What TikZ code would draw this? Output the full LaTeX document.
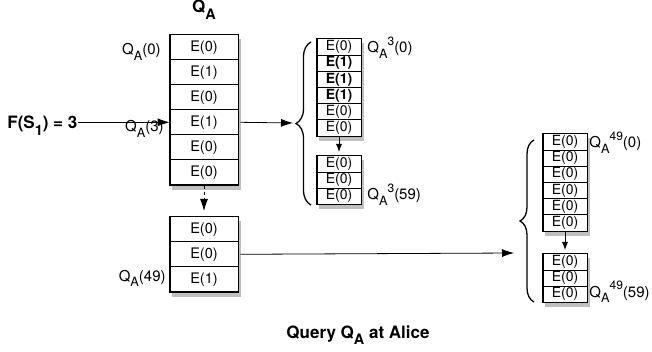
\documentclass[tikz,border=0pt]{standalone}
\usepackage{fontspec}
\setmainfont{TeX Gyre Heros}
\usetikzlibrary{matrix, positioning, shadows, arrows.meta, decorations.pathreplacing}
\newcommand\dn[1]{\raisebox{-0.38em}{\scalebox{0.85}{#1}}}
\newcommand\up[1]{\raisebox{0.5em}{\scalebox{0.8}{#1}}}
\tikzset{
	qcolumn/.style={
	matrix of nodes,
	anchor=north,
	inner sep=0pt,
	row sep=-\pgflinewidth,
	draw, fill=white,
	drop shadow={shadow xshift=2.5pt, shadow yshift=-4.5pt, opacity=0.5},
	nodes={rectangle,draw,fill=white,minimum width=68pt,minimum height=25pt,anchor=center,inner sep=0pt,font=\fontsize{14.5}{16}\selectfont}
	},
	scolumn/.style={
	qcolumn,
	nodes={minimum width=44pt,minimum height=16.2pt,font=\fontsize{14}{15}\selectfont}
	},
}

\begin{document}
\begin{tikzpicture}[x=1pt, y=-1pt, line width=0.8pt, >={Latex[length=12pt,width=8pt]}]

			\tikzstyle{lbl}=[inner sep=0pt, font=\fontsize{15}{17}\selectfont]
			\tikzstyle{bold}=[inner sep=0pt, font=\bfseries\fontsize{17}{19}\selectfont]
			\tikzstyle{curly}=[decorate, decoration={brace, amplitude=#1}, line width=1.3pt]
			\tikzstyle{small}=[-{Latex[length=8pt,width=6pt]}]

			\useasboundingbox (0,0) rectangle (652,352);

			% query vector at Alice
			\matrix at (204,34) (qa) [qcolumn] {E(0)\\ E(1)\\ E(0)\\ E(1)\\ E(0)\\ E(0)\\};
			\matrix at (204,216) (qb) [qcolumn] {E(0)\\ E(0)\\ E(1)\\};

			% expanded entries
			\matrix at (339,38) (sa) [scolumn] {E(0)\\ \textbf{E(1)}\\ \textbf{E(1)}\\ \textbf{E(1)}\\ E(0)\\ E(0)\\};
			\matrix at (339,155) (sb) [scolumn] {E(0)\\ E(0)\\ E(0)\\};
			\matrix at (565,133) (ra) [scolumn] {E(0)\\ E(0)\\ E(0)\\ E(0)\\ E(0)\\ E(0)\\};
			\matrix at (565,253) (rb) [scolumn] {E(0)\\ E(0)\\ E(0)\\};

			\node at (204,13) (title) [bold, anchor=base] {Q\dn{A}};
			\node at (7,129) (fs) [bold, anchor=base west] {F(S\dn{1}) = 3};
			\node at (358,338) (caption) [bold, anchor=base] {Query Q\dn{A} at Alice};

			\node at (161,55) (lqa0) [lbl, anchor=base east] {Q\dn{A}(0)};
			\node at (164,132) (lqa3) [lbl, anchor=base east] {Q\dn{A}(3)};
			\node at (166,281) (lqa49) [lbl, anchor=base east] {Q\dn{A}(49)};
			\node at (367,53) (lsa) [lbl, anchor=base west] {Q\dn{A}\up{3}(0)};
			\node at (367,200) (lsb) [lbl, anchor=base west] {Q\dn{A}\up{3}(59)};
			\node at (589,148) (lra) [lbl, anchor=base west] {Q\dn{A}\up{49}(0)};
			\node at (589,297) (lrb) [lbl, anchor=base west] {Q\dn{A}\up{49}(59)};

			\coordinate (br1s) at (311,205);
			\coordinate (br1n) at (311,42);
			\coordinate (br1) at (293,123);
			\coordinate (br2s) at (534,302);
			\coordinate (br2n) at (534,140);
			\coordinate (br2) at (514,253);

			\draw[curly=15pt] (br1s) -- (br1n);
			\draw[curly=14pt] (br2s) -- (br2n);

			\draw[->] (fs.east |- qa-4-1) -- (qa-4-1.west);
			\draw[->] (qa-4-1.east) ++(2,0) -- (br1);
			\draw[->] (qb-2-1.east) ++(2,0) -- (br2);
			\draw[->, dashed, shorten >=5pt] (qa.south) -- (qb.north);
			\draw[small, shorten >=3pt] (sa.south) -- (sb.north);
			\draw[small, shorten >=3pt] (ra.south) -- (rb.north);
		\end{tikzpicture}
\end{document}
